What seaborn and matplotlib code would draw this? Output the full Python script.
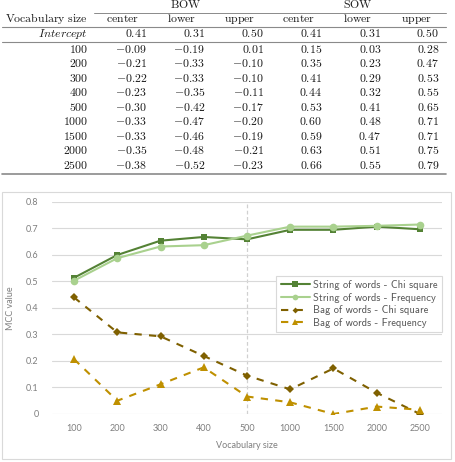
import matplotlib
matplotlib.use("Agg")
import matplotlib.pyplot as plt
import seaborn as sns
from matplotlib.patches import Rectangle

# Chart data (MCC value per vocabulary size)
vocab = ["100", "200", "300", "400", "500", "1000", "1500", "2000", "2500"]
sow_chi = [0.514, 0.600, 0.654, 0.668, 0.659, 0.695, 0.695, 0.707, 0.697]
sow_freq = [0.503, 0.588, 0.632, 0.637, 0.673, 0.707, 0.707, 0.710, 0.715]
bow_chi = [0.440, 0.308, 0.293, 0.219, 0.145, 0.093, 0.172, 0.080, 0.000]
bow_freq = [0.207, 0.050, 0.112, 0.176, 0.066, 0.044, 0.000, 0.028, 0.016]
y_ticks = [0, 0.1, 0.2, 0.3, 0.4, 0.5, 0.6, 0.7, 0.8]
y_tick_labels = ["0", "0.1", "0.2", "0.3", "0.4", "0.5", "0.6", "0.7", "0.8"]

# Table data (regression coefficients)
row_labels = ["Intercept"] + vocab
bow_center = [0.41, -0.09, -0.21, -0.22, -0.23, -0.30, -0.33, -0.33, -0.35, -0.38]
bow_lower = [0.31, -0.19, -0.33, -0.33, -0.35, -0.42, -0.47, -0.46, -0.48, -0.52]
bow_upper = [0.50, 0.01, -0.10, -0.10, -0.11, -0.17, -0.20, -0.19, -0.21, -0.23]
sow_center = [0.41, 0.15, 0.35, 0.41, 0.44, 0.53, 0.60, 0.59, 0.63, 0.66]
sow_lower = [0.31, 0.03, 0.23, 0.29, 0.32, 0.41, 0.48, 0.47, 0.51, 0.55]
sow_upper = [0.50, 0.28, 0.47, 0.53, 0.55, 0.65, 0.71, 0.71, 0.75, 0.79]

sns.set_style("white")
plt.rcParams["mathtext.fontset"] = "cm"

fig = plt.figure(figsize=(4.56, 4.62), dpi=100)

# overlay in pixel coordinates for the table and the chart frame
over = fig.add_axes([0, 0, 1, 1], zorder=-1)
over.set_xlim(0, 456)
over.set_ylim(462, 0)
over.axis("off")

tsize = 8.5
tcol = "#1a1a1a"
over.text(186, 5, r"$\mathrm{BOW}$", ha="center", va="center", size=tsize, color=tcol)
over.text(358, 5, r"$\mathrm{SOW}$", ha="center", va="center", size=tsize, color=tcol)
over.plot([94, 446], [12.5, 12.5], color="#8a8a8a", lw=0.7)
over.text(88, 19, r"$\mathrm{Vocabulary\ size}$", ha="right", va="center", size=tsize, color=tcol)
head_x = [122.5, 182, 240, 299, 358, 417]
for hx, h in zip(head_x, ["center", "lower", "upper"] * 2):
    over.text(hx, 19, r"$\mathrm{%s}$" % h, ha="center", va="center", size=tsize, color=tcol)
over.plot([2, 446], [27, 27], color="#8a8a8a", lw=0.8)
over.plot([2, 446], [42, 42], color="#8a8a8a", lw=0.8)
over.plot([2, 446], [174, 174], color="#8a8a8a", lw=1.2)

col_x = [147, 205, 264, 322, 381, 439]
columns = [bow_center, bow_lower, bow_upper, sow_center, sow_lower, sow_upper]
row_y = [33.7] + [49.2 + i * 14.5 for i in range(len(vocab))]
for i, (lab, ry) in enumerate(zip(row_labels, row_y)):
    if lab == "Intercept":
        s = r"$\mathit{Intercept}$"
    else:
        s = r"$\mathrm{%s}$" % lab
    over.text(88, ry, s, ha="right", va="center", size=tsize, color=tcol)
    for cx, col in zip(col_x, columns):
        over.text(cx, ry, "$%.2f$" % col[i], ha="right", va="center", size=tsize, color=tcol)

over.add_patch(Rectangle((2.5, 191.5), 448.5, 267.5, fill=False, ec="#d9d9d9", lw=0.8))

# the chart
ax = fig.add_axes([0.1149, 0.1039, 0.8535, 0.4589])
series = [
    (sow_chi, "String of words - Chi square", "#548235", "s", 5, "-"),
    (sow_freq, "String of words - Frequency", "#a9d18e", "o", 5.5, "-"),
    (bow_chi, "Bag of words - Chi square", "#7f6000", "D", 4, (0, (3.5, 3.5))),
    (bow_freq, "Bag of words - Frequency", "#bf9000", "^", 6, (0, (3.5, 3.5))),
]
for vals, name, color, mk, ms, ls in series:
    sns.lineplot(x=vocab, y=vals, color=color, marker=mk, markersize=ms,
                 markeredgecolor=color, markeredgewidth=0, linewidth=1.5,
                 linestyle=ls, label=name, sort=False, ax=ax)

ax.axvline(vocab.index("500"), color="#d0d0d0", ls=(0, (3, 2)), lw=0.9, zorder=0)
ax.set_xlim(-0.5, len(vocab) - 0.5)
ax.set_ylim(0, 0.8)
ax.set_yticks(y_ticks)
ax.set_yticklabels(y_tick_labels)
ax.yaxis.grid(True, color="#d9d9d9", lw=0.8)
ax.set_axisbelow(True)
for sp in ax.spines.values():
    sp.set_visible(False)
ax.tick_params(length=0, labelsize=6.5, labelcolor="#7f7f7f")
ax.tick_params(axis="y", pad=10)
ax.tick_params(axis="x", pad=7)
for t in ax.get_xticklabels() + ax.get_yticklabels():
    t.set_family("Lato")
ax.set_xlabel("Vocabulary size", family="Lato", size=6.5, color="#7f7f7f", labelpad=6)
ax.set_ylabel("MCC value", family="Lato", size=6.5, color="#7f7f7f", labelpad=8)

leg = ax.legend(loc="upper right", bbox_to_anchor=(1.0, 0.652), borderaxespad=0,
                prop=dict(family="cmss10", size=7.6), handlelength=2.8, markerscale=0.75,
                fancybox=False, framealpha=1, edgecolor="#d9d9d9",
                labelspacing=0.25, handletextpad=0.25, borderpad=0.4)
leg.get_frame().set_linewidth(0.8)
for t in leg.get_texts():
    t.set_color("#555555")

fig.savefig("out.png", dpi=100)
